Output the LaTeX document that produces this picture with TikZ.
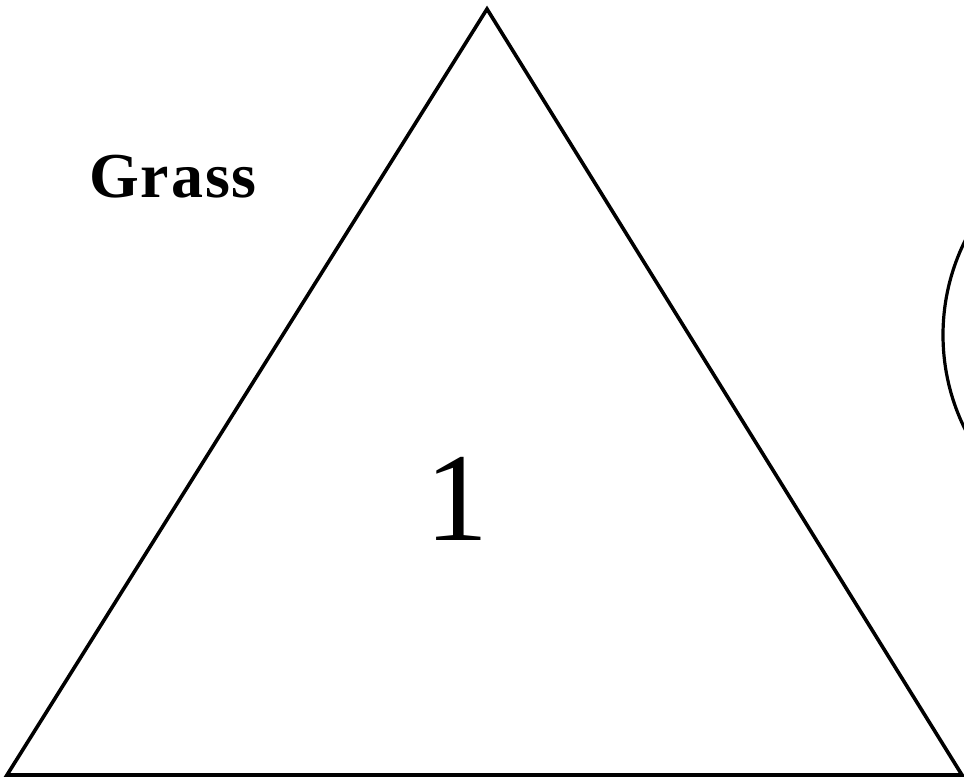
\documentclass[tikz,border=0pt]{standalone}
\usepackage{fontspec}
\setmainfont{Liberation Serif}
\begin{document}
\begin{tikzpicture}[x=1pt,y=-1pt,
  edge/.style={draw=black,line width=3.6pt,line join=miter},
  lbl/.style={inner sep=0pt,anchor=base}]
\useasboundingbox (0,0) rectangle (964,782);
\coordinate (apex) at (487,9);
\coordinate (bl) at (7,775);
\coordinate (br) at (962,775);
\coordinate (arcc) at (1155,335);
\draw[edge] (apex) -- (bl) -- (br) -- cycle;
\node[lbl] (grass) at (173,197) {\fontsize{64}{64}\selectfont\bfseries\addfontfeature{LetterSpace=3}Grass};
\node[lbl] (one) at (457,540) {\fontsize{126}{126}\selectfont 1};
\begin{scope}
\clip (0,0) rectangle (964,782);
\draw[line width=3.2pt] (arcc) circle[radius=212];
\end{scope}
\end{tikzpicture}
\end{document}
